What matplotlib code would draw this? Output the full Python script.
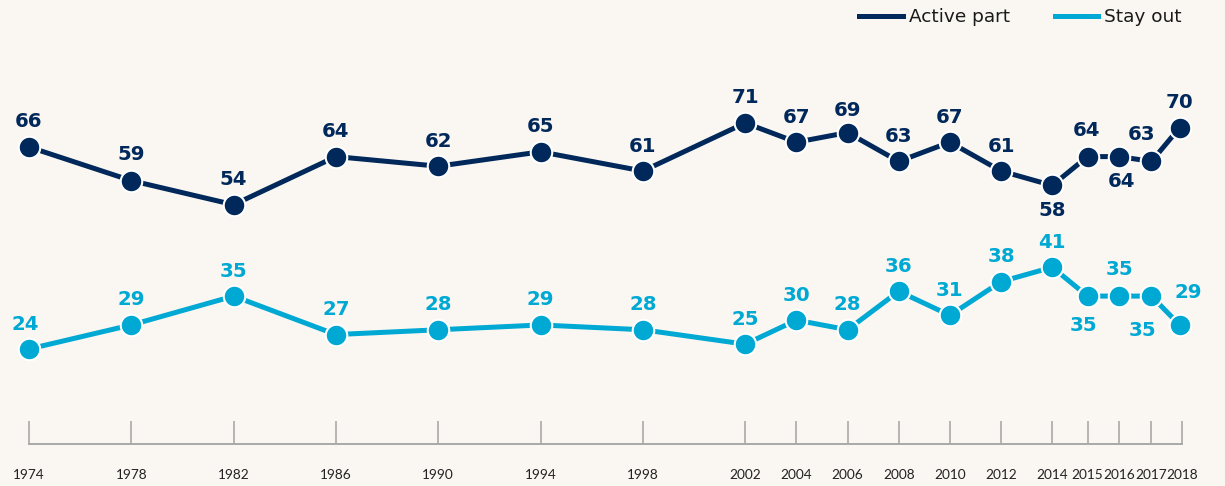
import matplotlib
matplotlib.use("Agg")
import matplotlib.pyplot as plt
from matplotlib.lines import Line2D

# ---- data ----
year_labels = ["1974", "1978", "1982", "1986", "1990", "1994", "1998", "2002", "2004",
               "2006", "2008", "2010", "2012", "2014", "2015", "2016", "2017", "2018"]
# position of each survey on the (non-uniform) time axis
survey_pos = [1974, 1978, 1982, 1986, 1990, 1994, 1998, 2002, 2004,
              2006, 2008, 2010, 2012, 2014, 2015.38, 2016.62, 2017.88, 2018.98]
active_part = [66, 59, 54, 64, 62, 65, 61, 71, 67, 69, 63, 67, 61, 58, 64, 64, 63, 70]
stay_out = [24, 29, 35, 27, 28, 29, 28, 25, 30, 28, 36, 31, 38, 41, 35, 35, 35, 29]

# ---- style ----
BG = "#faf7f2"
NAVY = "#00285a"
BLUE = "#00a9d4"
GRID = "#a9a9a9"

W, H, DPI = 1225, 486, 100
fig = plt.figure(figsize=(W / DPI, H / DPI), dpi=DPI, facecolor=BG)
ax = fig.add_axes([0, (H - 444) / H, 1, 444 / H])
ax.set_facecolor(BG)

px_per_year = 25.58
x_left = 1974 - 29 / px_per_year
x_right = 1974 + (W - 29) / px_per_year
ax.set_xlim(x_left, x_right)
px_per_unit = 4.81
y_bottom = 24 - (444 - 349) / px_per_unit
y_top = 24 + 349 / px_per_unit
ax.set_ylim(y_bottom, y_top)

for s in ["top", "left", "right"]:
    ax.spines[s].set_visible(False)
ax.spines["bottom"].set_color(GRID)
ax.spines["bottom"].set_linewidth(1.4)
ax.spines["bottom"].set_bounds(survey_pos[0], survey_pos[-1] + 0.1)
ax.set_yticks([])
ax.set_xticks([p if i < len(survey_pos) - 1 else p + 0.1 for i, p in enumerate(survey_pos)])
ax.set_xticklabels(year_labels, fontfamily="Lato", fontsize=9.8, color="#222222")
ax.tick_params(axis="x", direction="in", length=16.5, width=1.2, color=GRID, pad=18)

lw = 3.6
ms = 15.5
ax.plot(survey_pos, active_part, color=NAVY, lw=lw, marker="o", ms=ms,
        mfc=NAVY, mec="white", mew=1.5, solid_joinstyle="round", zorder=3)
ax.plot(survey_pos, stay_out, color=BLUE, lw=lw, marker="o", ms=ms,
        mfc=BLUE, mec="white", mew=1.5, solid_joinstyle="round", zorder=3)

label_font = dict(fontfamily="DejaVu Sans", fontweight="bold", fontsize=14.2,
                  ha="center", va="center")
default_off = (0, 18)
active_off = {"1978": (0, 19), "2006": (0, 16), "2014": (0, -18), "2015": (-1, 18.5),
              "2016": (1.5, -18), "2017": (-7, 19.5)}
stay_off = {"1974": (-3, 18), "2015": (-3, -21), "2016": (0, 19),
            "2017": (-6.5, -24.5), "2018": (6.5, 23.5)}

for lab, x, v in zip(year_labels, survey_pos, active_part):
    ax.annotate(str(v), (x, v), xytext=active_off.get(lab, default_off),
                textcoords="offset points", color=NAVY, zorder=4, **label_font)
for lab, x, v in zip(year_labels, survey_pos, stay_out):
    ax.annotate(str(v), (x, v), xytext=stay_off.get(lab, default_off),
                textcoords="offset points", color=BLUE, zorder=4, **label_font)

handles = [Line2D([], [], color=NAVY, lw=3.6), Line2D([], [], color=BLUE, lw=3.6)]
leg = fig.legend(handles, ["Active part", "Stay out"], loc="center right",
                 bbox_to_anchor=(1182 / W, 1 - 17 / H), ncol=2, frameon=False,
                 prop=dict(family="DejaVu Sans", size=13.3), handlelength=2.35,
                 handletextpad=0.35, columnspacing=2.4, borderpad=0, borderaxespad=0)
for t in leg.get_texts():
    t.set_color("#1a1a1a")

fig.savefig("out.png", dpi=DPI, facecolor=BG)
